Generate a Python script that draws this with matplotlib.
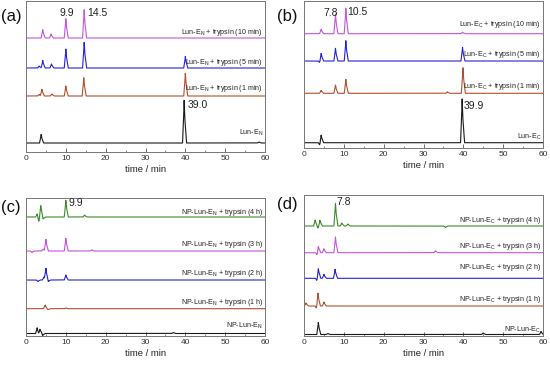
import numpy as np
import matplotlib

matplotlib.use("Agg")
import matplotlib.pyplot as plt
from matplotlib.ticker import MultipleLocator

plt.rcParams["font.family"] = ["Liberation Sans", "DejaVu Sans"]

# colours of the traces, bottom -> top
C_BLACK = "#1a1a1a"
C_BROWN = "#b0502e"
C_BLUE = "#2323d8"
C_VIOLET = "#c455dc"
C_GREEN = "#3d8a2c"

# --- panel (a): Lun-E_N, short digestion times ---
a_labels = ["Lun-E$_\\mathregular{N}$",
            "Lun-E$_\\mathregular{N}$ + trypsin (1 min)",
            "Lun-E$_\\mathregular{N}$ + trypsin (5 min)",
            "Lun-E$_\\mathregular{N}$ + trypsin (10 min)"]
a_offsets = [9, 56, 84, 114]
a_rt = [[3.8, 39.7, 58.5],
        [3.3, 4.0, 6.5, 10.0, 14.5, 40.0],
        [3.3, 4.2, 6.4, 10.0, 14.6, 40.0],
        [4.2, 6.3, 10.0, 14.6]]
a_h = [[8.5, 42.7, 1.0],
       [1.5, 6.7, 2.0, 10.0, 18.3, 22.7],
       [2.0, 7.6, 4.0, 19.0, 25.6, 11.6],
       [8.3, 4.0, 19.3, 28.3]]
a_label_y = [19, 64, 90, 120]
a_notes = [("9.9", 8.3, 139), ("14.5", 15.3, 139), ("39.0", 40.6, 47)]

# --- panel (b): Lun-E_C, short digestion times ---
b_labels = ["Lun-E$_\\mathregular{C}$",
            "Lun-E$_\\mathregular{C}$ + trypsin (1 min)",
            "Lun-E$_\\mathregular{C}$ + trypsin (5 min)",
            "Lun-E$_\\mathregular{C}$ + trypsin (10 min)"]
b_offsets = [5.3, 54.7, 87, 114.3]
b_rt = [[4.0, 4.3, 39.7],
        [4.3, 7.9, 10.5, 36.0, 39.9],
        [4.0, 4.3, 7.9, 10.5, 39.8],
        [4.3, 7.9, 10.5, 39.8]]
b_h = [[-3.0, 8.7, 43.7],
       [3.0, 8.3, 14.0, 1.5, 25.6],
       [-2.0, 8.3, 12.7, 20.3, 13.7],
       [4.4, 19.7, 25.4, 1.5]]
b_label_y = [11, 62, 94, 123]
b_notes = [("7.8", 5.0, 135), ("10.5", 10.9, 136), ("39.9", 40.0, 42)]

# --- panel (c): NP-Lun-E_N, long digestion times ---
c_labels = ["NP-Lun-E$_\\mathregular{N}$",
            "NP-Lun-E$_\\mathregular{N}$ + trypsin (1 h)",
            "NP-Lun-E$_\\mathregular{N}$ + trypsin (2 h)",
            "NP-Lun-E$_\\mathregular{N}$ + trypsin (3 h)",
            "NP-Lun-E$_\\mathregular{N}$ + trypsin (4 h)"]
c_offsets = [2.5, 27.3, 56, 85, 119]
c_rt = [[2.8, 3.2, 3.5, 4.2, 37.0],
        [4.8, 5.5, 10.0],
        [3.0, 4.5, 5.0, 5.6, 10.0],
        [1.5, 4.3, 5.0, 10.0, 16.5],
        [2.8, 3.2, 3.7, 4.3, 10.0, 14.7]]
c_h = [[5.7, -2.0, 5.0, -2.0, 1.0],
       [3.7, -1.0, 0.8],
       [-1.5, 3.0, 11.3, -1.5, 5.0],
       [-1.5, 2.0, 11.7, 12.7, 1.2],
       [3.0, -5.0, 12.0, -2.0, 16.7, 2.0]]
c_label_y = [10, 33.3, 62.3, 91.7, 123.3]
c_notes = [("9.9", 10.6, 133)]

# --- panel (d): NP-Lun-E_C, long digestion times ---
d_labels = ["NP-Lun-E$_\\mathregular{C}$",
            "NP-Lun-E$_\\mathregular{C}$ + trypsin (1 h)",
            "NP-Lun-E$_\\mathregular{C}$ + trypsin (2 h)",
            "NP-Lun-E$_\\mathregular{C}$ + trypsin (3 h)",
            "NP-Lun-E$_\\mathregular{C}$ + trypsin (4 h)"]
d_offsets = [1.5, 30, 57.7, 83.3, 110]
d_rt = [[3.6, 6.0, 45.0, 59.5],
        [0.5, 3.2, 3.5, 5.0],
        [3.3, 3.6, 5.0, 7.8],
        [3.3, 3.6, 5.0, 7.9, 33.0],
        [2.8, 3.5, 4.0, 7.9, 9.5, 11.0, 35.5]]
d_h = [[12.0, 1.0, 1.5, 3.0],
       [3.0, -3.0, 14.0, 4.0],
       [-3.0, 10.7, 4.0, 9.0],
       [-3.0, 7.3, 4.0, 15.7, 2.0],
       [6.0, -2.0, 6.0, 22.7, 3.0, 2.0, -1.5]]
d_label_y = [6, 36.7, 68.3, 90, 115]
d_notes = [("7.8", 8.1, 134)]

panels = [
    ("(a)", a_labels, a_offsets, a_rt, a_h, a_label_y, a_notes,
     [C_BLACK, C_BROWN, C_BLUE, C_VIOLET]),
    ("(b)", b_labels, b_offsets, b_rt, b_h, b_label_y, b_notes,
     [C_BLACK, C_BROWN, C_BLUE, C_VIOLET]),
    ("(c)", c_labels, c_offsets, c_rt, c_h, c_label_y, c_notes,
     [C_BLACK, C_BROWN, C_BLUE, C_VIOLET, C_GREEN]),
    ("(d)", d_labels, d_offsets, d_rt, d_h, d_label_y, d_notes,
     [C_BLACK, C_BROWN, C_BLUE, C_VIOLET, C_GREEN]),
]

# axes rectangles in pixels (left, top, right, bottom) of a 550x368 image
W, H = 550, 368
rects_px = [(26, 1, 265, 152), (304, 1, 543, 148),
            (26, 198, 265, 336), (304, 195, 543, 336)]
tag_pos = [(1, 17), (277, 17), (1, 208), (277, 204)]

fig = plt.figure(figsize=(W / 100, H / 100), dpi=100)
t = np.linspace(0, 60, 6001)


def trace(rts, hs):
    y = np.zeros_like(t)
    for rt, h in zip(rts, hs):
        y += np.interp(t, [rt - 0.4, rt - 0.12, rt, rt + 0.15, rt + 0.6],
                       [0, 0.6 * h, h, 0.6 * h, 0])
    return y


for (tag, labels, offs, rts, hs, ly, notes, cols), (l, tp, r, b), (tx, ty) in zip(
        panels, rects_px, tag_pos):
    ax = fig.add_axes([l / W, 1 - b / H, (r - l) / W, (b - tp) / H])
    for lab, off, rt, h, yl, col in zip(labels, offs, rts, hs, ly, cols):
        ax.plot(t, trace(rt, h) + off, color=col, lw=0.8)
        ax.text(59.5, yl, lab, ha="right", va="center", fontsize=5.1,
                color="#222222")
    for txt, x, y in notes:
        ax.text(x, y, txt, ha="left", va="center", fontsize=7.5,
                color="#222222", clip_on=False)
    ax.set_xlim(0, 60)
    ax.set_ylim(0, b - tp)
    ax.set_yticks([])
    ax.xaxis.set_major_locator(MultipleLocator(10))
    ax.xaxis.set_minor_locator(MultipleLocator(5))
    ax.tick_params(axis="x", which="major", direction="in", length=3,
                   width=0.6, labelsize=6, pad=2, colors="#555555",
                   labelcolor="#333333")
    ax.tick_params(axis="x", which="minor", direction="in", length=1.8,
                   width=0.5, colors="#555555")
    ax.set_xlabel("time / min", fontsize=6.8, labelpad=2, color="#222222")
    for s in ax.spines.values():
        s.set_color("#777777")
        s.set_linewidth(0.7)
    fig.text(tx / W, 1 - ty / H, tag, fontsize=12, ha="left", va="center",
             color="#111111")

fig.savefig("out.png", dpi=100)
